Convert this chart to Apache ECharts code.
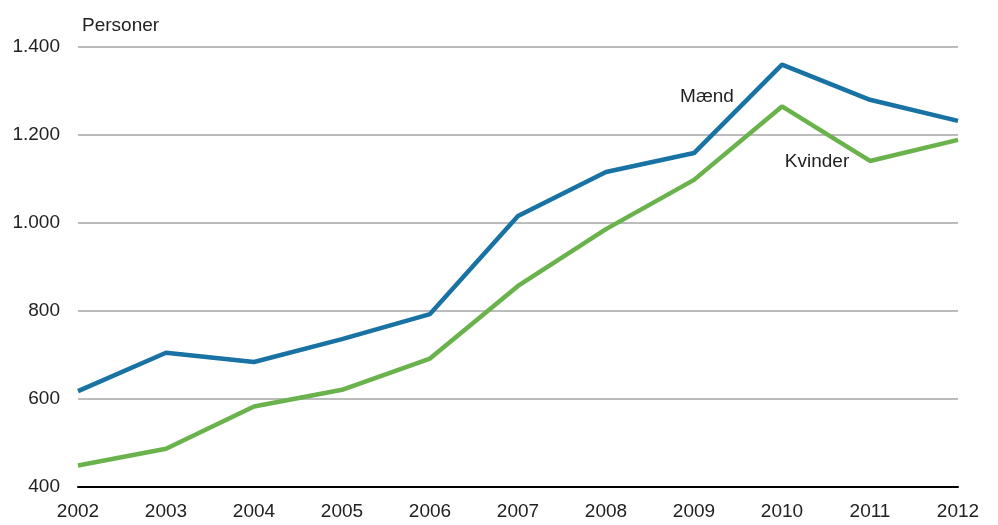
<!DOCTYPE html>
<html><head><meta charset="utf-8">
<script src="https://cdn.jsdelivr.net/npm/echarts@6/dist/echarts.min.js"></script>
<style>html,body{margin:0;padding:0;background:#fff}#c{width:998px;height:525px}</style>
</head><body><div id="c"></div>
<script>
const years = ['2002','2003','2004','2005','2006','2007','2008','2009','2010','2011','2012'];
const maend = [618, 705, 684, 736, 793, 1016, 1116, 1159, 1360, 1280, 1232];
const kvinder = [449, 487, 583, 621, 692, 857, 986, 1098, 1265, 1141, 1189];
const yTicks = [400, 600, 800, 1000, 1200, 1400];

const FONT = "'Liberation Sans', Arial, sans-serif";
const FS = 19;
const chart = echarts.init(document.getElementById('c'));
function lbl(text, coord, dx) {
  return {symbol: 'circle', symbolSize: 1, itemStyle: {color: 'rgba(0,0,0,0)'},
    label: {show: true, position: 'inside', offset: [dx, 0], formatter: text, color: '#222', fontSize: FS, fontFamily: FONT},
    data: [{coord: coord}]};
}
chart.setOption({
  animation: false,
  textStyle: {fontFamily: FONT},
  grid: {left: 78, right: 40, top: 47, bottom: 38, containLabel: false},
  xAxis: {
    type: 'category', data: years, boundaryGap: false,
    axisLine: {lineStyle: {color: '#000', width: 2}},
    axisTick: {show: false},
    axisLabel: {color: '#222', fontSize: FS, fontFamily: FONT, margin: 15}
  },
  yAxis: {
    type: 'value', min: 400, max: 1400, interval: 200,
    name: 'Personer', nameLocation: 'end', nameGap: 12,
    nameTextStyle: {color: '#222', fontSize: FS, fontFamily: FONT, align: 'left', padding: [0,0,0,4]},
    axisLine: {show: false}, axisTick: {show: false},
    axisLabel: {color: '#222', fontSize: FS, fontFamily: FONT, margin: 18,
      formatter: v => v >= 1000 ? String(v).replace(/(\d)(\d{3})$/, '$1.$2') : String(v)},
    splitLine: {lineStyle: {color: '#a6a6a6', width: 1.5}}
  },
  series: [
    {name: 'Mænd', type: 'line', data: maend, symbol: 'none',
     lineStyle: {color: '#1872a4', width: 4.5}, z: 3,
     markPoint: lbl('Mænd', ['2009', 1287], 13)},
    {name: 'Kvinder', type: 'line', data: kvinder, symbol: 'none',
     lineStyle: {color: '#6ab24c', width: 4.5}, z: 2,
     markPoint: lbl('Kvinder', ['2010', 1139], 35)}
  ]
});
</script></body></html>
